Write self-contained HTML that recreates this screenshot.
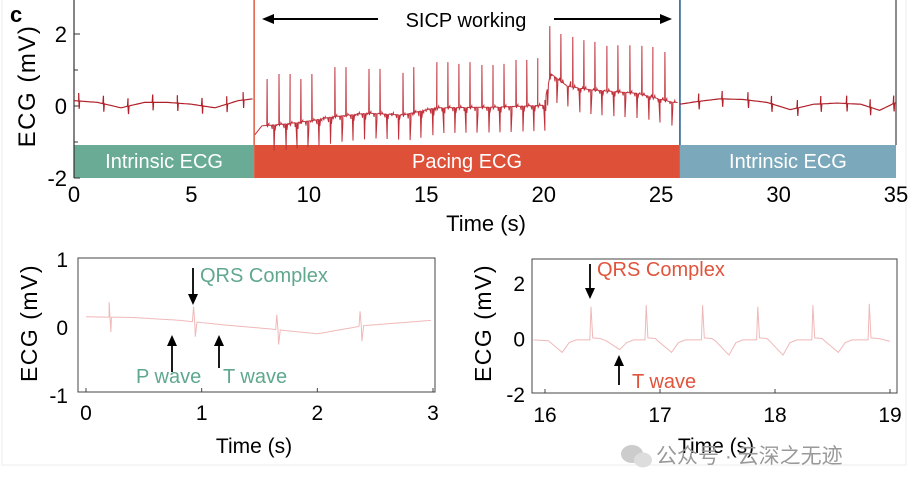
<!DOCTYPE html>
<html><head><meta charset="utf-8"><style>
html,body{margin:0;padding:0;background:#fff;}
svg{display:block;font-family:"Liberation Sans","Noto Sans CJK SC",sans-serif;}
</style></head><body>
<svg id="c" width="908" height="490" viewBox="0 0 908 490">
<rect x="0" y="0" width="908" height="490" fill="#fff"/>
<rect x="2" y="-2" width="904" height="467" fill="none" stroke="#eee" stroke-width="1"/>
<text x="10" y="22" font-size="22" font-weight="bold">c</text>
<g id="topchart"></g>
<g id="bl"></g>
<g id="br"></g>
<g>
<ellipse cx="632" cy="454" rx="11" ry="9" fill="#ccc"/>
<ellipse cx="643" cy="460" rx="9" ry="7.5" fill="#ddd"/>
<text x="656" y="463" font-size="21" fill="#999">公众号 · 云深之无迹</text>
</g>
</svg>
<script>
// ---- data: top chart ----
const intrTimesL=[0.2,1.25,2.3,3.35,4.4,5.45,6.5,7.2];
const intrBaseT=[0,1,2,3,4,5,6,7,7.65];
const intrBaseV=[0.15,0.1,-0.05,0.1,0.1,0.05,-0.05,0.15,0.2];
const intrTimesR=[26.6,27.6,28.7,29.7,30.8,31.8,32.9,33.9,34.9];
const intrBaseRT=[25.8,26.5,27.5,28.5,29.5,30.5,31.5,32.5,33.5,34.3,35];
const intrBaseRV=[0.05,0.12,0.2,0.18,0.1,-0.1,0.05,0.08,0.05,-0.12,0.1];
const paceTimes=[8.22,8.73,9.2,9.66,10.13,10.62,11.11,11.58,12.07,12.56,13.03,13.52,14.01,14.47,14.98,15.45,15.92,16.39,16.86,17.37,17.84,18.31,18.82,19.28,19.75,20.26,20.73,21.24,21.71,22.18,22.69,23.16,23.67,24.18,24.65,25.16];
const pacePeaks=[0.75,0.89,0.89,0.75,0.89,-0.3,1.08,1.08,-0.2,1.03,1.03,-0.2,0.92,1.08,-0.1,1.22,1.22,1.17,1.22,1.14,1.14,1.17,1.28,1.28,1.33,2.22,2.0,1.92,1.83,1.78,1.67,1.69,1.69,1.67,1.64,1.5];
const paceBaseT=[7.7,8.0,9.0,10.2,11.0,12.5,14.0,15.4,18.0,20.0,20.3,21.0,22.0,24.0,25.5];
const paceBaseV=[-0.8,-0.55,-0.5,-0.4,-0.3,-0.2,-0.25,-0.05,-0.03,0.02,0.9,0.55,0.45,0.35,0.1];
const topXTicks=[0,5,10,15,20,25,30,35];
const topYTicks=[-2,0,2];
// ---- data: bottom-left ----
const blBeats=[0.2,0.93,1.65,2.37];
const blBaseT=[0,0.4,0.8,1.2,1.6,2.0,2.4,2.7,3.0];
const blBaseV=[0.15,0.14,0.1,0.03,-0.03,-0.1,0.02,0.06,0.1];
const blXTicks=[0,1,2,3];
const blYTicks=[-1,0,1];
// ---- data: bottom-right ----
const brBeats=[16.4,16.88,17.37,17.85,18.33,18.82];
const brPeaks=[1.15,1.2,1.2,1.15,1.2,1.25];
const brDipT=[16.15,16.65,17.1,17.6,18.07,18.55];
const brDipV=[-0.5,-0.4,-0.5,-0.6,-0.6,-0.5];
const brXTicks=[16,17,18,19];
const brYTicks=[-2,0,2];

const NS="http://www.w3.org/2000/svg";
function mk(p,tag,at,txt){const e=document.createElementNS(NS,tag);for(const k in at)e.setAttribute(k,at[k]);if(txt!=null)e.textContent=txt;p.appendChild(e);return e;}
function interp(T,V,t){if(t<=T[0])return V[0];for(let i=1;i<T.length;i++)if(t<=T[i]){const f=(t-T[i-1])/(T[i]-T[i-1]);return V[i-1]+f*(V[i]-V[i-1]);}return V[V.length-1];}
function linear(d0,d1,r0,r1){return v=>r0+(v-d0)/(d1-d0)*(r1-r0);}

// ---------- TOP ----------
const topG=document.getElementById('topchart');
const tx=linear(0,35,74,896), ty=linear(-2,2,178,34);
mk(topG,'rect',{x:74,y:145,width:tx(7.67)-74,height:33,fill:'#6aab95'});
mk(topG,'rect',{x:tx(7.67),y:145,width:tx(25.8)-tx(7.67),height:33,fill:'#de5038'});
mk(topG,'rect',{x:tx(25.8),y:145,width:896-tx(25.8),height:33,fill:'#7ba9bb'});
mk(topG,'text',{x:(74+tx(7.67))/2,y:168,'font-size':20,fill:'#fff','text-anchor':'middle',},'Intrinsic ECG');
mk(topG,'text',{x:(tx(7.67)+tx(25.8))/2,y:168,'font-size':20,fill:'#fff','text-anchor':'middle',},'Pacing ECG');
mk(topG,'text',{x:(tx(25.8)+896)/2,y:168,'font-size':20,fill:'#fff','text-anchor':'middle',},'Intrinsic ECG');
mk(topG,'line',{x1:74,y1:0,x2:74,y2:178,stroke:'#333','stroke-width':1.2});
mk(topG,'line',{x1:896,y1:0,x2:896,y2:145,stroke:'#666','stroke-width':1.5});
mk(topG,'line',{x1:tx(7.67),y1:0,x2:tx(7.67),y2:145,stroke:'#e05a40','stroke-width':1.5});
mk(topG,'line',{x1:tx(25.8),y1:0,x2:tx(25.8),y2:145,stroke:'#1d5a8a','stroke-width':1.5});
[-1,1].forEach(v=>mk(topG,'line',{x1:74,y1:ty(v),x2:78,y2:ty(v),stroke:'#333'}));
topYTicks.forEach(v=>{mk(topG,'line',{x1:74,y1:ty(v),x2:80,y2:ty(v),stroke:'#333'});
 const t=mk(topG,'text',{x:67,y:ty(v)+8,'font-size':22,'text-anchor':'end'},String(v));
 });
topXTicks.forEach(v=>{const t=mk(topG,'text',{x:tx(v),y:202,'font-size':22,'text-anchor':'middle'},String(v));
 });
mk(topG,'text',{x:486,y:231,'font-size':22,'text-anchor':'middle',},'Time (s)');
mk(topG,'text',{transform:'translate(35,86) rotate(-90)','font-size':24,'letter-spacing':'1.5','text-anchor':'middle',},'ECG (mV)');
mk(topG,'text',{x:466,y:27,'font-size':20,'text-anchor':'middle',},'SICP working');
mk(topG,'line',{x1:378,y1:19,x2:272,y2:19,stroke:'#000','stroke-width':2});
mk(topG,'path',{d:'M262,19 L274,14 L274,24 Z',fill:'#000'});
mk(topG,'line',{x1:554,y1:19,x2:662,y2:19,stroke:'#000','stroke-width':2});
mk(topG,'path',{d:'M672,19 L660,14 L660,24 Z',fill:'#000'});

function intrPts(beats,BT,BV,t0,t1){const pts=[];for(let t=t0;t<=t1+1e-6;t+=0.1)pts.push([t,interp(BT,BV,t)]);
 beats.forEach(b=>{const v=interp(BT,BV,b);pts.push([b-0.02,v],[b,v+0.22],[b+0.02,v-0.22],[b+0.04,v]);});
 return pts.sort((a,b)=>a[0]-b[0]);}
function toPath(pts,fx,fy){return pts.map((p,i)=>(i?'L':'M')+fx(p[0]).toFixed(1)+','+fy(p[1]).toFixed(1)).join('');}
const lp=mk(topG,'path',{d:toPath(intrPts(intrTimesL,intrBaseT,intrBaseV,0,7.65),tx,ty),fill:'none',stroke:'#b0202a','stroke-width':1.2});

const rp=mk(topG,'path',{d:toPath(intrPts(intrTimesR,intrBaseRT,intrBaseRV,25.8,35),tx,ty),fill:'none',stroke:'#b0202a','stroke-width':1.2});

// pacing
const pp=[];
for(let t=7.7;t<=25.75;t+=0.05)pp.push([t,interp(paceBaseT,paceBaseV,t)]);
paceTimes.forEach((b,i)=>{const v=interp(paceBaseT,paceBaseV,b);
 pp.push([b-0.01,v],[b,pacePeaks[i]],[b+0.015,v-0.05],[b+0.08,v+0.05],[b+0.22,v-0.1],[b+0.3,v-0.7],[b+0.34,v-0.15],[b+0.42,v]);});
pp.sort((a,b)=>a[0]-b[0]);
const filt=[];let last=-1;pp.forEach(p=>{if(p[0]>last-0.001){filt.push(p);last=p[0];}});
const pc=mk(topG,'path',{d:toPath(filt,tx,ty),fill:'none',stroke:'#c0303a','stroke-width':1});


// ---------- BOTTOM LEFT ----------
const bl=document.getElementById('bl');
const lx=linear(0,3,86,433), ly=linear(-1,1,395,259);
mk(bl,'rect',{x:78,y:258,width:357,height:134,fill:'none',stroke:'#444','stroke-width':1});
blYTicks.forEach(v=>{const t=mk(bl,'text',{x:68,y:ly(v)+8,'font-size':21,'text-anchor':'end'},String(v));});
blXTicks.forEach(v=>{mk(bl,'line',{x1:lx(v),y1:392,x2:lx(v),y2:388,stroke:'#444'});
 const t=mk(bl,'text',{x:lx(v),y:420,'font-size':21,'text-anchor':'middle'},String(v));});
mk(bl,'text',{x:254,y:453,'font-size':21,'text-anchor':'middle',},'Time (s)');
mk(bl,'text',{transform:'translate(37,323) rotate(-90)','font-size':23,'letter-spacing':'1.5','text-anchor':'middle',},'ECG (mV)');
const blp=[];for(let t=0;t<=3;t+=0.02)blp.push([t,interp(blBaseT,blBaseV,t)]);
blBeats.forEach(b=>{const v=interp(blBaseT,blBaseV,b);blp.push([b-0.01,v],[b,v+0.22],[b+0.015,v-0.22],[b+0.03,v]);});
blp.sort((a,b)=>a[0]-b[0]);
const blpath=mk(bl,'path',{d:toPath(blp,lx,ly),fill:'none',stroke:'#f0b8b8','stroke-width':1});

mk(bl,'text',{x:200,y:282,'font-size':20,fill:'#5fa88e',},'QRS Complex');
mk(bl,'line',{x1:193,y1:268,x2:193,y2:296,stroke:'#000','stroke-width':1.8});mk(bl,'path',{d:'M193,305 L188,294 L198,294 Z'});
mk(bl,'line',{x1:172,y1:345,x2:172,y2:372,stroke:'#000','stroke-width':1.8});mk(bl,'path',{d:'M172,335 L167,346 L177,346 Z'});
mk(bl,'line',{x1:219,y1:345,x2:219,y2:368,stroke:'#000','stroke-width':1.8});mk(bl,'path',{d:'M219,335 L214,346 L224,346 Z'});
mk(bl,'text',{x:136,y:383,'font-size':20,fill:'#5fa88e',},'P wave');
mk(bl,'text',{x:223,y:383,'font-size':20,fill:'#5fa88e',},'T wave');

// ---------- BOTTOM RIGHT ----------
const br=document.getElementById('br');
const rx=linear(16,19,545,890), ry=linear(-2,2,394,283);
mk(br,'rect',{x:532,y:259,width:365,height:134,fill:'none',stroke:'#444','stroke-width':1});
brYTicks.forEach(v=>{const t=mk(br,'text',{x:525,y:ry(v)+8,'font-size':21,'text-anchor':'end'},String(v));});
brXTicks.forEach(v=>{mk(br,'line',{x1:rx(v),y1:393,x2:rx(v),y2:389,stroke:'#444'});
 const t=mk(br,'text',{x:rx(v),y:422,'font-size':21,'text-anchor':'middle'},String(v));});
mk(br,'text',{x:716,y:453,'font-size':21,'text-anchor':'middle',},'Time (s)');
mk(br,'text',{transform:'translate(491,323) rotate(-90)','font-size':23,'letter-spacing':'1.5','text-anchor':'middle',},'ECG (mV)');
const brp=[[15.9,-0.05]];
brDipT.forEach((d,i)=>{brp.push([d-0.12,-0.08],[d,brDipV[i]],[d+0.06,-0.15],[d+0.12,-0.05]);});
brBeats.forEach((b,i)=>{brp.push([b-0.01,-0.05],[b,brPeaks[i]],[b+0.015,0.02],[b+0.08,0.0]);});
brp.push([19,-0.1]);brp.sort((a,b)=>a[0]-b[0]);
const brpath=mk(br,'path',{d:toPath(brp,rx,ry),fill:'none',stroke:'#f0b8b8','stroke-width':1});

mk(br,'text',{x:597,y:276,'font-size':20,fill:'#e0543c',},'QRS Complex');
mk(br,'line',{x1:590,y1:264,x2:590,y2:290,stroke:'#000','stroke-width':1.8});mk(br,'path',{d:'M590,299 L585,288 L595,288 Z'});
mk(br,'line',{x1:619,y1:365,x2:619,y2:385,stroke:'#000','stroke-width':1.8});mk(br,'path',{d:'M619,355 L614,366 L624,366 Z'});
mk(br,'text',{x:632,y:388,'font-size':20,fill:'#e0543c',},'T wave');
</script>
</body></html>
